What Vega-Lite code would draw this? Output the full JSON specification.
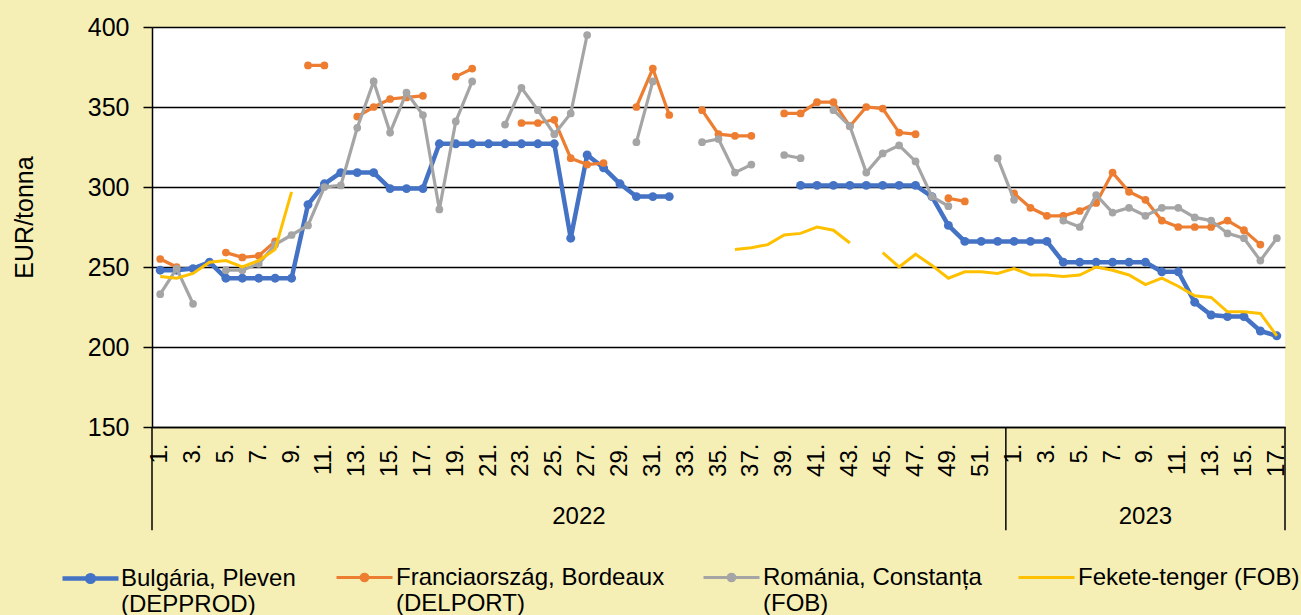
{
  "$schema": "https://vega.github.io/schema/vega-lite/v6.json",
  "width": 1133,
  "height": 400,
  "autosize": {"type": "none"},
  "padding": {"left": 152, "top": 27, "right": 16, "bottom": 188},
  "background": "#F5EFB6",
  "config": {
    "view": {"fill": "white", "stroke": null},
    "font": "Liberation Sans",
    "axis": {"labelColor": "black", "titleColor": "black", "titleFontWeight": "normal", "labelFont": "Liberation Sans", "titleFont": "Liberation Sans"},
    "legend": {"orient": "none", "padding": 0, "labelFontSize": 24, "labelColor": "black", "labelFont": "Liberation Sans", "labelLimit": 500, "labelOffset": 2, "symbolSize": 3136, "symbolStrokeWidth": 3}
  },
  "resolve": {"scale": {"color": "independent"}},
  "data": {"values": [
    {"t": "2022-01", "bg": 248, "fr": 255, "ro": 233, "bs": 244},
    {"t": "2022-02", "bg": 248, "fr": 250, "ro": 249, "bs": 243},
    {"t": "2022-03", "bg": 249, "fr": null, "ro": 227, "bs": 246},
    {"t": "2022-04", "bg": 253, "fr": null, "ro": null, "bs": 253},
    {"t": "2022-05", "bg": 243, "fr": 259, "ro": 248, "bs": 254},
    {"t": "2022-06", "bg": 243, "fr": 256, "ro": 248, "bs": 250},
    {"t": "2022-07", "bg": 243, "fr": 257, "ro": 252, "bs": 254},
    {"t": "2022-08", "bg": 243, "fr": 266, "ro": 264, "bs": 261},
    {"t": "2022-09", "bg": 243, "fr": null, "ro": 270, "bs": 297},
    {"t": "2022-10", "bg": 289, "fr": 376, "ro": 276, "bs": null},
    {"t": "2022-11", "bg": 302, "fr": 376, "ro": 300, "bs": null},
    {"t": "2022-12", "bg": 309, "fr": null, "ro": 301, "bs": null},
    {"t": "2022-13", "bg": 309, "fr": 344, "ro": 337, "bs": null},
    {"t": "2022-14", "bg": 309, "fr": 350, "ro": 366, "bs": null},
    {"t": "2022-15", "bg": 299, "fr": 355, "ro": 334, "bs": null},
    {"t": "2022-16", "bg": 299, "fr": 356, "ro": 359, "bs": null},
    {"t": "2022-17", "bg": 299, "fr": 357, "ro": 345, "bs": null},
    {"t": "2022-18", "bg": 327, "fr": null, "ro": 286, "bs": null},
    {"t": "2022-19", "bg": 327, "fr": 369, "ro": 341, "bs": null},
    {"t": "2022-20", "bg": 327, "fr": 374, "ro": 366, "bs": null},
    {"t": "2022-21", "bg": 327, "fr": null, "ro": null, "bs": null},
    {"t": "2022-22", "bg": 327, "fr": null, "ro": 339, "bs": null},
    {"t": "2022-23", "bg": 327, "fr": 340, "ro": 362, "bs": null},
    {"t": "2022-24", "bg": 327, "fr": 340, "ro": 348, "bs": null},
    {"t": "2022-25", "bg": 327, "fr": 342, "ro": 333, "bs": null},
    {"t": "2022-26", "bg": 268, "fr": 318, "ro": 346, "bs": null},
    {"t": "2022-27", "bg": 320, "fr": 314, "ro": 395, "bs": null},
    {"t": "2022-28", "bg": 312, "fr": 315, "ro": null, "bs": null},
    {"t": "2022-29", "bg": 302, "fr": null, "ro": null, "bs": null},
    {"t": "2022-30", "bg": 294, "fr": 350, "ro": 328, "bs": null},
    {"t": "2022-31", "bg": 294, "fr": 374, "ro": 366, "bs": null},
    {"t": "2022-32", "bg": 294, "fr": 345, "ro": null, "bs": null},
    {"t": "2022-33", "bg": null, "fr": null, "ro": null, "bs": null},
    {"t": "2022-34", "bg": null, "fr": 348, "ro": 328, "bs": null},
    {"t": "2022-35", "bg": null, "fr": 333, "ro": 330, "bs": null},
    {"t": "2022-36", "bg": null, "fr": 332, "ro": 309, "bs": 261},
    {"t": "2022-37", "bg": null, "fr": 332, "ro": 314, "bs": 262},
    {"t": "2022-38", "bg": null, "fr": null, "ro": null, "bs": 264},
    {"t": "2022-39", "bg": null, "fr": 346, "ro": 320, "bs": 270},
    {"t": "2022-40", "bg": 301, "fr": 346, "ro": 318, "bs": 271},
    {"t": "2022-41", "bg": 301, "fr": 353, "ro": null, "bs": 275},
    {"t": "2022-42", "bg": 301, "fr": 353, "ro": 348, "bs": 273},
    {"t": "2022-43", "bg": 301, "fr": 338, "ro": 338, "bs": 265},
    {"t": "2022-44", "bg": 301, "fr": 350, "ro": 309, "bs": null},
    {"t": "2022-45", "bg": 301, "fr": 349, "ro": 321, "bs": 259},
    {"t": "2022-46", "bg": 301, "fr": 334, "ro": 326, "bs": 250},
    {"t": "2022-47", "bg": 301, "fr": 333, "ro": 316, "bs": 258},
    {"t": "2022-48", "bg": 294, "fr": null, "ro": 294, "bs": 251},
    {"t": "2022-49", "bg": 276, "fr": 293, "ro": 288, "bs": 243},
    {"t": "2022-50", "bg": 266, "fr": 291, "ro": null, "bs": 247},
    {"t": "2022-51", "bg": 266, "fr": null, "ro": null, "bs": 247},
    {"t": "2022-52", "bg": 266, "fr": null, "ro": 318, "bs": 246},
    {"t": "2023-01", "bg": 266, "fr": 296, "ro": 292, "bs": 249},
    {"t": "2023-02", "bg": 266, "fr": 287, "ro": null, "bs": 245},
    {"t": "2023-03", "bg": 266, "fr": 282, "ro": null, "bs": 245},
    {"t": "2023-04", "bg": 253, "fr": 282, "ro": 279, "bs": 244},
    {"t": "2023-05", "bg": 253, "fr": 285, "ro": 275, "bs": 245},
    {"t": "2023-06", "bg": 253, "fr": 290, "ro": 295, "bs": 250},
    {"t": "2023-07", "bg": 253, "fr": 309, "ro": 284, "bs": 248},
    {"t": "2023-08", "bg": 253, "fr": 297, "ro": 287, "bs": 245},
    {"t": "2023-09", "bg": 253, "fr": 292, "ro": 282, "bs": 239},
    {"t": "2023-10", "bg": 247, "fr": 279, "ro": 287, "bs": 243},
    {"t": "2023-11", "bg": 247, "fr": 275, "ro": 287, "bs": 238},
    {"t": "2023-12", "bg": 228, "fr": 275, "ro": 281, "bs": 232},
    {"t": "2023-13", "bg": 220, "fr": 275, "ro": 279, "bs": 231},
    {"t": "2023-14", "bg": 219, "fr": 279, "ro": 271, "bs": 222},
    {"t": "2023-15", "bg": 219, "fr": 273, "ro": 268, "bs": 222},
    {"t": "2023-16", "bg": 210, "fr": 264, "ro": 254, "bs": 221},
    {"t": "2023-17", "bg": 207, "fr": null, "ro": 268, "bs": 207}
  ]},
  "encoding": {
    "x": {
      "field": "t", "type": "ordinal", "bandPosition": 0.5,
      "scale": {"type": "band", "paddingInner": 0, "paddingOuter": 0},
      "axis": {
        "title": null,
        "values": ["2022-01","2022-03","2022-05","2022-07","2022-09","2022-11","2022-13","2022-15","2022-17","2022-19","2022-21","2022-23","2022-25","2022-27","2022-29","2022-31","2022-33","2022-35","2022-37","2022-39","2022-41","2022-43","2022-45","2022-47","2022-49","2022-51","2023-01","2023-03","2023-05","2023-07","2023-09","2023-11","2023-13","2023-15","2023-17"],
        "labelExpr": "toNumber(slice(datum.value, 5)) + '.'",
        "labelAngle": 270, "labelAlign": "right", "labelBaseline": "middle",
        "labelFontSize": 24, "labelPadding": 16, "labelOverlap": false, "labelBound": false, "labelFlush": false,
        "ticks": false, "grid": false, "domainColor": "black", "domainWidth": 1.5
      }
    }
  },
  "layer": [
    {
      "mark": {"type": "line", "strokeWidth": 4.5, "point": {"filled": true, "size": 80, "opacity": 1}},
      "encoding": {
        "y": {"field": "bg", "type": "quantitative", "title": "EUR/tonna",
          "scale": {"domain": [150, 400], "nice": false, "zero": false},
          "axis": {"values": [150, 200, 250, 300, 350, 400], "labelFontSize": 25, "labelPadding": 14, "tickSize": 9, "tickColor": "black", "tickWidth": 1.5, "domainColor": "black", "domainWidth": 1.5, "gridColor": "black", "gridWidth": 1.5, "titleFontSize": 25, "titlePadding": 50, "titleY": 190}},
        "color": {"datum": "Bulgária, Pleven (DEPPROD)", "type": "nominal",
          "scale": {"range": ["#4472C4"]},
          "legend": {"title": null, "legendX": -92, "legendY": 521, "symbolStrokeWidth": 4.5, "labelOffset": 0,
            "symbolType": "M-1,0H1M-0.12,0a0.12,0.12 0 1,0 0.24,0a0.12,0.12 0 1,0 -0.24,0",
            "labelExpr": "['Bulgária, Pleven', '(DEPPROD)']"}
        }
      }
    },
    {
      "mark": {"type": "line", "strokeWidth": 3.2, "point": {"filled": true, "size": 60, "opacity": 1}},
      "encoding": {
        "y": {"field": "fr", "type": "quantitative", "title": "EUR/tonna"},
        "color": {"datum": "Franciaország, Bordeaux (DELPORT)", "type": "nominal",
          "scale": {"range": ["#ED7D31"]},
          "legend": {"title": null, "legendX": 183, "legendY": 521,
            "symbolType": "M-1,0H1M-0.12,0a0.12,0.12 0 1,0 0.24,0a0.12,0.12 0 1,0 -0.24,0",
            "labelExpr": "['Franciaország, Bordeaux', '(DELPORT)']"}
        }
      }
    },
    {
      "mark": {"type": "line", "strokeWidth": 3.2, "point": {"filled": true, "size": 60, "opacity": 1}},
      "encoding": {
        "y": {"field": "ro", "type": "quantitative", "title": "EUR/tonna"},
        "color": {"datum": "Románia, Constanța (FOB)", "type": "nominal",
          "scale": {"range": ["#A5A5A5"]},
          "legend": {"title": null, "legendX": 550, "legendY": 521,
            "symbolType": "M-1,0H1M-0.12,0a0.12,0.12 0 1,0 0.24,0a0.12,0.12 0 1,0 -0.24,0",
            "labelExpr": "['Románia, Constanța', '(FOB)']"}
        }
      }
    },
    {
      "mark": {"type": "line", "strokeWidth": 3},
      "encoding": {
        "y": {"field": "bs", "type": "quantitative", "title": "EUR/tonna"},
        "color": {"datum": "Fekete-tenger (FOB)", "type": "nominal",
          "scale": {"range": ["#FFC000"]},
          "legend": {"title": null, "legendX": 865, "legendY": 521,
            "symbolType": "M-1,0H1",
            "labelExpr": "['Fekete-tenger (FOB)', ' ']"}
        }
      }
    },
    {
      "transform": [{"filter": "datum.t == '2022-01' || datum.t == '2023-01'"}],
      "mark": {"type": "rule", "color": "black", "strokeWidth": 1.5},
      "encoding": {
        "x": {"field": "t", "type": "ordinal", "bandPosition": 0},
        "y": {"datum": 150, "type": "quantitative", "title": "EUR/tonna"},
        "y2": {"datum": 85.5}
      }
    },
    {
      "transform": [{"filter": "datum.t == '2023-17'"}],
      "mark": {"type": "rule", "color": "black", "strokeWidth": 1.5},
      "encoding": {
        "x": {"field": "t", "type": "ordinal", "bandPosition": 1},
        "y": {"datum": 150, "type": "quantitative", "title": "EUR/tonna"},
        "y2": {"datum": 85.5}
      }
    },
    {
      "transform": [{"filter": "datum.t == '2022-27'"}],
      "mark": {"type": "text", "fontSize": 24, "color": "black", "baseline": "middle", "align": "center"},
      "encoding": {
        "x": {"field": "t", "type": "ordinal", "bandPosition": 0},
        "y": {"datum": 93.75, "type": "quantitative", "title": "EUR/tonna"},
        "text": {"value": "2022"}
      }
    },
    {
      "transform": [{"filter": "datum.t == '2023-09'"}],
      "mark": {"type": "text", "fontSize": 24, "color": "black", "baseline": "middle", "align": "center"},
      "encoding": {
        "x": {"field": "t", "type": "ordinal", "bandPosition": 0.5},
        "y": {"datum": 93.75, "type": "quantitative", "title": "EUR/tonna"},
        "text": {"value": "2023"}
      }
    }
  ]
}
